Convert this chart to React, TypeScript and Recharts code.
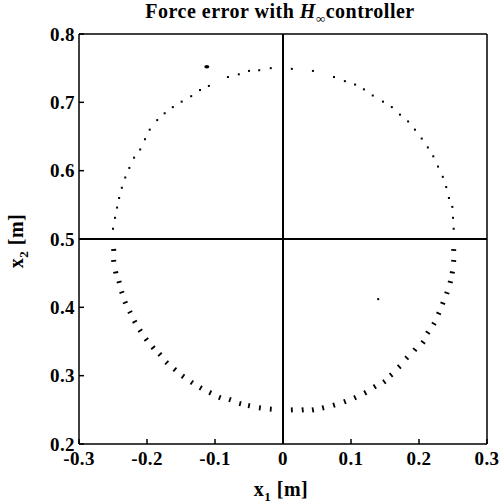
import React from "react";
import {
  ScatterChart,
  Scatter,
  XAxis,
  YAxis,
  ReferenceLine,
} from "recharts";

// trajectory samples, upper half (small dots)
const upperArc = [
  { x: -0.25, y: 0.515 }, { x: -0.247, y: 0.531 }, { x: -0.244, y: 0.546 },
  { x: -0.241, y: 0.56 }, { x: -0.237, y: 0.575 }, { x: -0.232, y: 0.59 },
  { x: -0.226, y: 0.604 }, { x: -0.219, y: 0.619 }, { x: -0.21, y: 0.631 },
  { x: -0.203, y: 0.646 }, { x: -0.196, y: 0.66 }, { x: -0.185, y: 0.674 },
  { x: -0.174, y: 0.684 }, { x: -0.162, y: 0.693 }, { x: -0.149, y: 0.701 },
  { x: -0.135, y: 0.709 }, { x: -0.122, y: 0.718 }, { x: -0.109, y: 0.724 },
  { x: -0.081, y: 0.737 }, { x: -0.065, y: 0.741 }, { x: -0.05, y: 0.746 },
  { x: -0.035, y: 0.747 }, { x: -0.018, y: 0.75 }, { x: 0.013, y: 0.749 },
  { x: 0.044, y: 0.746 }, { x: 0.075, y: 0.737 }, { x: 0.091, y: 0.731 },
  { x: 0.106, y: 0.726 }, { x: 0.119, y: 0.719 }, { x: 0.132, y: 0.71 },
  { x: 0.147, y: 0.701 }, { x: 0.16, y: 0.693 }, { x: 0.172, y: 0.682 },
  { x: 0.184, y: 0.672 }, { x: 0.194, y: 0.66 }, { x: 0.204, y: 0.647 },
  { x: 0.213, y: 0.634 }, { x: 0.221, y: 0.621 }, { x: 0.228, y: 0.606 },
  { x: 0.235, y: 0.591 }, { x: 0.24, y: 0.576 }, { x: 0.244, y: 0.56 },
  { x: 0.249, y: 0.547 }, { x: 0.25, y: 0.531 }, { x: 0.251, y: 0.515 },
];

// trajectory samples, lower half (short dashes)
const lowerArc = [
  { x: -0.249, y: 0.484 }, { x: -0.249, y: 0.468 }, { x: -0.246, y: 0.451 },
  { x: -0.241, y: 0.437 }, { x: -0.237, y: 0.422 }, { x: -0.232, y: 0.407 },
  { x: -0.225, y: 0.393 }, { x: -0.218, y: 0.379 }, { x: -0.21, y: 0.366 },
  { x: -0.201, y: 0.353 }, { x: -0.191, y: 0.341 }, { x: -0.181, y: 0.331 },
  { x: -0.171, y: 0.319 }, { x: -0.159, y: 0.309 }, { x: -0.147, y: 0.299 },
  { x: -0.134, y: 0.29 }, { x: -0.121, y: 0.282 }, { x: -0.107, y: 0.275 },
  { x: -0.093, y: 0.268 }, { x: -0.078, y: 0.265 }, { x: -0.063, y: 0.259 },
  { x: -0.05, y: 0.256 }, { x: -0.034, y: 0.253 }, { x: -0.018, y: 0.251 },
  { x: 0.013, y: 0.25 }, { x: 0.029, y: 0.25 }, { x: 0.044, y: 0.25 },
  { x: 0.059, y: 0.253 }, { x: 0.075, y: 0.257 }, { x: 0.091, y: 0.262 },
  { x: 0.106, y: 0.268 }, { x: 0.121, y: 0.275 }, { x: 0.135, y: 0.284 },
  { x: 0.149, y: 0.291 }, { x: 0.159, y: 0.301 }, { x: 0.171, y: 0.313 },
  { x: 0.182, y: 0.326 }, { x: 0.194, y: 0.338 }, { x: 0.206, y: 0.349 },
  { x: 0.213, y: 0.363 }, { x: 0.222, y: 0.376 }, { x: 0.229, y: 0.391 },
  { x: 0.235, y: 0.406 }, { x: 0.241, y: 0.421 }, { x: 0.246, y: 0.437 },
  { x: 0.249, y: 0.451 }, { x: 0.251, y: 0.468 }, { x: 0.251, y: 0.484 },
];

const strayBig = [{ x: -0.112, y: 0.752 }];
const straySmall = [{ x: 0.14, y: 0.412 }];

const xTicks = [-0.3, -0.2, -0.1, 0, 0.1, 0.2, 0.3];
const yTicks = [0.2, 0.3, 0.4, 0.5, 0.6, 0.7, 0.8];

const serif = "'Liberation Serif', 'DejaVu Serif', serif";
const tickStyle = { fill: "#000", fontSize: 19, fontWeight: 700, fontFamily: serif, letterSpacing: 0.4 };
const fmt = (v: number) => (v === 0 ? "0" : String(v));
const blank = () => "";

const Dot = (props: any) => {
  const { cx, cy } = props;
  return <rect x={cx - 1} y={cy - 1} width={2} height={2} fill="#000" />;
};

const Dash = (props: any) => {
  const { cx, cy, payload } = props;
  const dx = payload.x;
  const dy = payload.y - 0.5;
  const r = Math.hypot(dx, dy) || 1;
  const ux = dx / r;
  const uy = -dy / r;
  return (
    <line
      x1={cx - ux * 2.5}
      y1={cy - uy * 2.5}
      x2={cx + ux * 2.5}
      y2={cy + uy * 2.5}
      stroke="#000"
      strokeWidth={1.8}
    />
  );
};

const Blob = (props: any) => {
  const { cx, cy } = props;
  return <ellipse cx={cx} cy={cy} rx={2.5} ry={1.8} fill="#000" />;
};

const labelStyle: React.CSSProperties = {
  position: "absolute",
  fontFamily: serif,
  fontWeight: 700,
  fontSize: 19,
  whiteSpace: "nowrap",
};

export default function App() {
  return (
    <div style={{ position: "absolute", left: 0, top: 0, width: 500, height: 503, background: "#fff" }}>
      <ScatterChart width={500} height={503} margin={{ top: 33, right: 12, bottom: 0, left: 0 }}>
        <XAxis
          type="number"
          dataKey="x"
          domain={[-0.3, 0.3]}
          ticks={xTicks}
          interval={0}
          tickFormatter={fmt}
          tick={tickStyle}
          tickSize={-5}
          tickMargin={13}
          height={59}
          stroke="#000"
          strokeWidth={1.5}
          allowDataOverflow
        />
        <XAxis
          xAxisId="top"
          orientation="top"
          type="number"
          dataKey="x"
          domain={[-0.3, 0.3]}
          ticks={xTicks}
          interval={0}
          tickFormatter={blank}
          tickSize={-5}
          height={1}
          stroke="#000"
          strokeWidth={1.5}
        />
        <YAxis
          type="number"
          dataKey="y"
          domain={[0.2, 0.8]}
          ticks={yTicks}
          interval={0}
          tickFormatter={fmt}
          tick={tickStyle}
          tickSize={-5}
          tickMargin={9}
          width={79}
          stroke="#000"
          strokeWidth={1.5}
          allowDataOverflow
        />
        <YAxis
          yAxisId="right"
          orientation="right"
          type="number"
          dataKey="y"
          domain={[0.2, 0.8]}
          ticks={yTicks}
          interval={0}
          tickFormatter={blank}
          tickSize={-5}
          width={1}
          stroke="#000"
          strokeWidth={1.5}
        />
        <ReferenceLine x={0} stroke="#000" strokeWidth={2} />
        <ReferenceLine y={0.5} stroke="#000" strokeWidth={2} />
        <Scatter data={upperArc} shape={Dot} isAnimationActive={false} />
        <Scatter data={lowerArc} shape={Dash} isAnimationActive={false} />
        <Scatter data={strayBig} shape={Blob} isAnimationActive={false} />
        <Scatter data={straySmall} shape={Dot} isAnimationActive={false} />
      </ScatterChart>
      <div style={{ ...labelStyle, left: 0, width: 560, top: 0, textAlign: "center", fontSize: 20, letterSpacing: 0.5 }}>
        Force error with <i>H</i>
        <sub style={{ fontSize: 13 }}>∞</sub>controller
      </div>
      <div style={{ ...labelStyle, left: 0, width: 562, top: 478, textAlign: "center", fontSize: 20, letterSpacing: 0.5 }}>
        x<sub style={{ fontSize: 13 }}>1</sub> [m]
      </div>
      <div
        style={{
          ...labelStyle,
          left: 18,
          top: 241,
          fontSize: 20,
          letterSpacing: 0.5,
          transform: "translate(-50%, -50%) rotate(-90deg)",
        }}
      >
        x<sub style={{ fontSize: 13 }}>2</sub> [m]
      </div>
    </div>
  );
}
